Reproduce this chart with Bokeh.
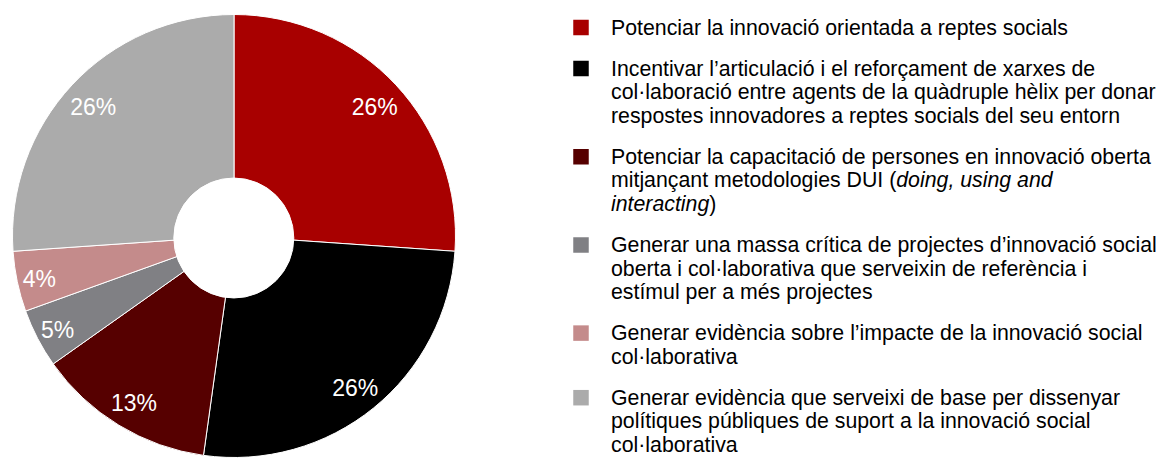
import math
from bokeh.plotting import figure
from bokeh.models import Range1d, ColumnDataSource
from bokeh.core.properties import value
from bokeh.embed import file_html
from bokeh.resources import INLINE

# ---------------- data ----------------
categories = [
    "Potenciar la innovació orientada a reptes socials",
    "Incentivar l’articulació i el reforçament de xarxes de col·laboració entre agents de la quàdruple hèlix per donar respostes innovadores a reptes socials del seu entorn",
    "Potenciar la capacitació de persones en innovació oberta mitjançant metodologies DUI (doing, using and interacting)",
    "Generar una massa crítica de projectes d’innovació social oberta i col·laborativa que serveixin de referència i estímul per a més projectes",
    "Generar evidència sobre l’impacte de la innovació social col·laborativa",
    "Generar evidència que serveixi de base per dissenyar polítiques públiques de suport a la innovació social col·laborativa",
]
shares = [26.1, 26.1, 13.0, 4.3, 4.4, 26.1]
pct_labels = ["26%", "26%", "13%", "5%", "4%", "26%"]
colors = ["#A80000", "#000000", "#560000", "#808084", "#C48B8B", "#ABABAB"]
# wrapped legend text; *...* marks italic
legend_lines = [
    ["Potenciar la innovació orientada a reptes socials"],
    ["Incentivar l’articulació i el reforçament de xarxes de",
     "col·laboració entre agents de la quàdruple hèlix per donar",
     "respostes innovadores a reptes socials del seu entorn"],
    ["Potenciar la capacitació de persones en innovació oberta",
     "mitjançant metodologies DUI (*doing, using and*",
     "*interacting*)"],
    ["Generar una massa crítica de projectes d’innovació social",
     "oberta i col·laborativa que serveixin de referència i",
     "estímul per a més projectes"],
    ["Generar evidència sobre l’impacte de la innovació social",
     "col·laborativa"],
    ["Generar evidència que serveixi de base per dissenyar",
     "polítiques públiques de suport a la innovació social",
     "col·laborativa"],
]

# ---------------- layout helpers ----------------
W, H = 1160, 458
FONT = "Liberation Sans"

def fx(X):  # picture x -> data x
    return X

def fy(Y):  # picture y -> data y
    return H - Y

AW = {' ': 278, '(': 333, ')': 333, ',': 278, '%': 889, 'a': 556, 'b': 556, 'c': 500,
      'd': 556, 'e': 556, 'f': 278, 'g': 556, 'h': 556, 'i': 222, 'j': 222, 'k': 500,
      'l': 222, 'm': 833, 'n': 556, 'o': 556, 'p': 556, 'q': 556, 'r': 333, 's': 500,
      't': 278, 'u': 556, 'v': 500, 'w': 722, 'x': 500, 'y': 500, 'z': 500, 'ç': 500,
      'D': 722, 'U': 722, 'I': 278}

def text_w(s, size):
    return sum(AW.get(ch, 556) for ch in s) * size / 1000.0

p = figure(width=W, height=H, output_backend="svg", toolbar_location=None,
           x_axis_type=None, y_axis_type=None, min_border=0,
           x_range=Range1d(0, W), y_range=Range1d(0, H))
p.outline_line_color = None
p.background_fill_color = "white"
p.border_fill_color = "white"

# ---------------- donut ----------------
cx, cy = fx(233.5), fy(235.5)
R = 221.5
total = sum(shares)
starts, ends, mids = [], [], []
cum = 0.0
for s in shares:
    a0 = cum / total * 2 * math.pi
    cum += s
    a1 = cum / total * 2 * math.pi
    starts.append(math.pi / 2 - a0)
    ends.append(math.pi / 2 - a1)
    mids.append((a0 + a1) / 2)

src = ColumnDataSource(dict(start=starts, end=ends, color=colors, cat=categories))
p.wedge(x=cx, y=cy, radius=R, start_angle="start", end_angle="end", direction="clock",
        fill_color="color", line_color="white", line_width=1, source=src)
p.scatter(x=[fx(233.3)], y=[fy(237.5)], marker="circle", size=120,
          fill_color="white", line_color="white")

# percentage labels (centre placed at a radius depending on label width)
LF = 23
lx, ly = [], []
for lab, th in zip(pct_labels, mids):
    hw = text_w(lab, LF) / 2
    r = 215.5 - hw
    lx.append(cx + r * math.sin(th))
    ly.append(cy + r * math.cos(th) - 2.5)
p.text(x=lx, y=ly, text=pct_labels, text_font=value(FONT), text_font_size=f"{LF}px",
       text_color="white", text_align="center", text_baseline="middle")

# ---------------- legend ----------------
TF = 21.3
LINE = 23.6
GAP = 41.0
tx = fx(610.5)
sq_x = fx(580.5)
norm = dict(x=[], y=[], t=[])
ital = dict(x=[], y=[], t=[])
sqx, sqy = [], []
base = 34.0
for item in legend_lines:
    sqx.append(sq_x)
    sqy.append(fy(base - 7))
    for k, line in enumerate(item):
        yb = fy(base + k * LINE)
        xx = tx
        parts = line.split("*")
        for j, seg in enumerate(parts):
            if not seg:
                continue
            d = ital if j % 2 == 1 else norm
            d["x"].append(xx)
            d["y"].append(yb)
            d["t"].append(seg)
            xx += text_w(seg, TF)
    base = base + (len(item) - 1) * LINE + GAP

p.rect(x=sqx, y=sqy, width=15.5, height=15.5, fill_color=colors, line_color=None)
p.text(x="x", y="y", text="t", source=ColumnDataSource(norm), text_font=value(FONT),
       text_font_size=f"{TF}px", text_color="#000000", text_baseline="alphabetic",
       y_offset=-7)
p.text(x="x", y="y", text="t", source=ColumnDataSource(ital), text_font=value(FONT),
       text_font_size=f"{TF}px", text_font_style="italic", text_color="#000000",
       text_baseline="alphabetic", y_offset=-7)

open("out.html", "w").write(file_html(p, INLINE))
